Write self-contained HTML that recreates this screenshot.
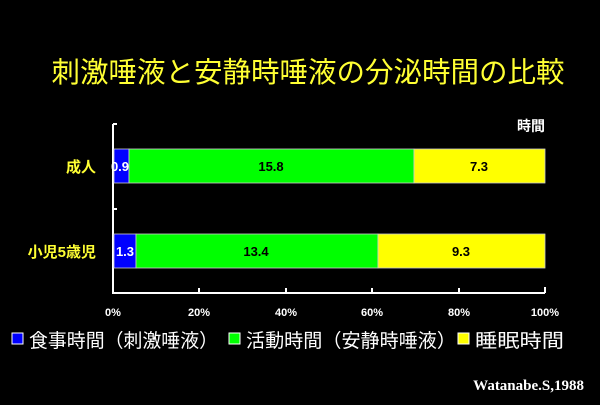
<!DOCTYPE html>
<html><head><meta charset="utf-8"><style>
body{margin:0;background:#000;width:600px;height:400px;overflow:hidden}
svg text{font-family:"Liberation Sans","Noto Sans CJK JP",sans-serif}
</style></head><body>
<svg width="600" height="400" viewBox="0 0 600 400">
<text x="308" y="82" fill="#ffff33" font-size="28.5" text-anchor="middle">刺激唾液と安静時唾液の分泌時間の比較</text>
<text x="531" y="131" fill="#fff" font-size="14" font-weight="bold" text-anchor="middle">時間</text>
<g stroke="#fff" stroke-width="2" fill="none">
<path d="M113 124V293H545"/>
<path d="M113 124h4M113 209h4"/>
<path d="M199 293v-5M286 293v-5M372 293v-5M459 293v-5M545 293v-6"/>
</g>
<g stroke="#ccc" stroke-width="0.8">
<rect x="114" y="149" width="15" height="34" fill="#0000ff"/>
<rect x="129" y="149" width="285" height="34" fill="#00ff00"/>
<rect x="414" y="149" width="131" height="34" fill="#ffff00"/>
<rect x="114" y="234" width="22" height="34" fill="#0000ff"/>
<rect x="136" y="234" width="242" height="34" fill="#00ff00"/>
<rect x="378" y="234" width="167" height="34" fill="#ffff00"/>
</g>
<g font-size="13" font-weight="bold" text-anchor="middle">
<text x="120" y="171" fill="#fff">0.9</text>
<text x="271" y="171" fill="#000">15.8</text>
<text x="479" y="171" fill="#000">7.3</text>
<text x="125" y="256" fill="#fff">1.3</text>
<text x="256" y="256" fill="#000">13.4</text>
<text x="461" y="256" fill="#000">9.3</text>
</g>
<g fill="#ffff33" font-size="15" font-weight="bold" text-anchor="end">
<text x="96" y="172">成人</text>
<text x="96" y="257">小児5歳児</text>
</g>
<g fill="#fff" font-size="11" font-weight="bold" text-anchor="middle">
<text x="113" y="316">0%</text><text x="199" y="316">20%</text><text x="286" y="316">40%</text>
<text x="372" y="316">60%</text><text x="459" y="316">80%</text><text x="545" y="316">100%</text>
</g>
<g font-size="19" fill="#fff">
<rect x="12" y="333" width="11" height="11" fill="#0000ff" stroke="#fff"/>
<text x="29" y="347" textLength="189" lengthAdjust="spacingAndGlyphs">食事時間（刺激唾液）</text>
<rect x="229" y="333" width="11" height="11" fill="#00ff00" stroke="#fff"/>
<text x="246" y="347" textLength="210" lengthAdjust="spacingAndGlyphs">活動時間（安静時唾液）</text>
<rect x="458" y="333" width="11" height="11" fill="#ffff00" stroke="#fff"/>
<text x="475" y="347" textLength="89" lengthAdjust="spacingAndGlyphs">睡眠時間</text>
</g>
<text x="584" y="390" fill="#fff" font-size="15" font-weight="bold" text-anchor="end" style="font-family:'Liberation Serif',serif">Watanabe.S,1988</text>
</svg>
</body></html>
